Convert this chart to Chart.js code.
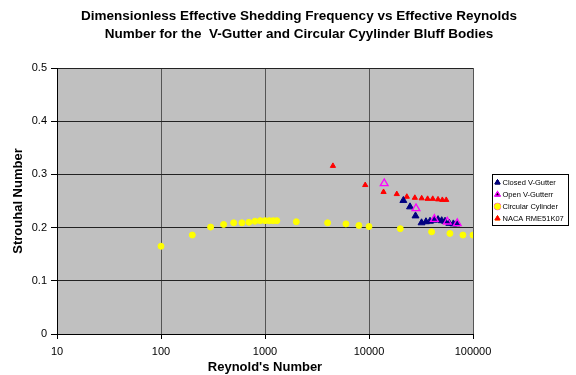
<!DOCTYPE html>
<html>
<head>
<meta charset="utf-8">
<script src="https://cdn.jsdelivr.net/npm/chart.js@4/dist/chart.umd.min.js"></script>
<style>
  html, body { margin: 0; padding: 0; background: #fff; }
</style>
</head>
<body>
<canvas id="chart" width="576" height="375"></canvas>
<script>
// Chart data
const titleLines = [
    'Dimensionless Effective Shedding Frequency vs Effective Reynolds',
    'Number for the  V-Gutter and Circular Cyylinder Bluff Bodies'
];
const xTicks = [10, 100, 1000, 10000, 100000];

const closedRe = [21400, 24800, 28000, 32000, 35300, 38600, 42200, 46100, 50000, 53800, 59200, 64700, 69700];
const closedSt = [0.251, 0.239, 0.222, 0.209, 0.211, 0.212, 0.214, 0.215, 0.213, 0.212, 0.208, 0.207, 0.207];

const openRe = [14000, 28300, 42500, 56600, 70600];
const openSt = [0.283, 0.236, 0.216, 0.211, 0.208];

const cylRe = [100, 200, 300, 400, 500, 600, 700, 800, 900, 1000, 1100, 1200, 1300,
               2000, 4000, 6000, 8000, 10000, 20000, 40000, 60000, 80000, 100000];
const cylSt = [0.165, 0.186, 0.201, 0.206, 0.209, 0.209, 0.210, 0.212, 0.213, 0.213, 0.213, 0.213, 0.213,
               0.211, 0.209, 0.207, 0.204, 0.202, 0.198, 0.192, 0.189, 0.186, 0.186];

const nacaRe = [4500, 9200, 13800, 18500, 23100, 27600, 32100, 36600, 41000, 46100, 50700, 55300];
const nacaSt = [0.316, 0.280, 0.267, 0.263, 0.258, 0.256, 0.255, 0.254, 0.254, 0.253, 0.252, 0.252];

const FONT = '"Liberation Sans", Arial, sans-serif';

// Zip two arrays into {x, y} points
function toPoints(xs, ys) {
    return xs.map((x, i) => ({ x: x, y: ys[i] }));
}

// Gray plot background + white canvas
const backgroundPlugin = {
    id: 'plotBackground',
    beforeDraw(chart) {
        const { ctx, chartArea } = chart;
        ctx.save();
        ctx.fillStyle = '#ffffff';
        ctx.fillRect(0, 0, chart.width, chart.height);
        ctx.fillStyle = '#c0c0c0';
        ctx.fillRect(chartArea.left, chartArea.top,
            chartArea.right - chartArea.left, chartArea.bottom - chartArea.top);
        ctx.restore();
    }
};

// Two line title, centred like the original
const titlePlugin = {
    id: 'twoLineTitle',
    afterDraw(chart) {
        const ctx = chart.ctx;
        ctx.save();
        ctx.font = 'bold 13.5px ' + FONT;
        ctx.fillStyle = '#000';
        ctx.textAlign = 'center';
        ctx.textBaseline = 'middle';
        titleLines.forEach((line, i) => ctx.fillText(line, 299, 16 + i * 18));
        ctx.restore();
    }
};

// Boxed legend on the right
const legendPlugin = {
    id: 'boxLegend',
    afterDraw(chart) {
        const ctx = chart.ctx;
        const box = { left: 492.5, top: 174.5, width: 76, height: 51 };
        ctx.save();
        ctx.strokeStyle = '#000';
        ctx.lineWidth = 1;
        ctx.strokeRect(box.left, box.top, box.width, box.height);
        ctx.font = '7.5px ' + FONT;
        ctx.textBaseline = 'middle';
        chart.data.datasets.forEach((ds, i) => {
            const y = box.top + 8 + i * 12;
            Chart.helpers.drawPoint(ctx, {
                pointStyle: ds.pointStyle,
                radius: ds.legendRadius,
                borderWidth: ds.borderWidth,
                rotation: 0
            }, box.left + 5, y);
            ctx.fillStyle = ds.backgroundColor;
            ctx.strokeStyle = ds.borderColor;
            ctx.lineWidth = ds.borderWidth;
            if (ds.backgroundColor !== 'rgba(0,0,0,0)') ctx.fill();
            ctx.stroke();
            ctx.fillStyle = '#000';
            ctx.fillText(ds.label, box.left + 10, y);
        });
        ctx.restore();
    }
};

const ctx = document.getElementById('chart').getContext('2d');

new Chart(ctx, {
    type: 'scatter',
    data: {
        datasets: [
            {
                label: 'Closed V-Gutter',
                data: toPoints(closedRe, closedSt),
                pointStyle: 'triangle',
                backgroundColor: '#000080',
                borderColor: '#000080',
                borderWidth: 1,
                pointRadius: 4,
                legendRadius: 3,
                order: 2
            },
            {
                label: 'Open V-Gutterr',
                data: toPoints(openRe, openSt),
                pointStyle: 'triangle',
                backgroundColor: 'rgba(0,0,0,0)',
                borderColor: '#ff00ff',
                borderWidth: 1.3,
                pointRadius: 4.5,
                legendRadius: 3,
                order: 1
            },
            {
                label: 'Circular Cylinder',
                data: toPoints(cylRe, cylSt),
                pointStyle: 'circle',
                backgroundColor: '#ffff00',
                borderColor: '#ffff00',
                borderWidth: 1,
                pointRadius: 3,
                legendRadius: 3,
                order: 3
            },
            {
                label: 'NACA RME51K07',
                data: toPoints(nacaRe, nacaSt),
                pointStyle: 'triangle',
                backgroundColor: '#ff0000',
                borderColor: '#ff0000',
                borderWidth: 1,
                pointRadius: 3,
                legendRadius: 3,
                order: 4
            }
        ]
    },
    options: {
        responsive: false,
        animation: false,
        events: [],
        layout: {
            padding: { left: 0, top: 68, right: 103, bottom: 0 }
        },
        plugins: {
            legend: { display: false },
            title: { display: false },
            tooltip: { enabled: false }
        },
        scales: {
            x: {
                type: 'logarithmic',
                min: 10,
                max: 100000,
                afterBuildTicks: scale => {
                    scale.ticks = xTicks.map(v => ({ value: v }));
                },
                afterFit: scale => { scale.height = 41; },
                ticks: {
                    callback: v => String(v),
                    color: '#000',
                    font: { family: FONT, size: 11 },
                    padding: 6,
                    maxRotation: 0,
                    autoSkip: false
                },
                grid: { color: '#555555', tickColor: '#000', tickLength: 5 },
                border: { color: '#000', width: 1 },
                title: {
                    display: true,
                    text: "Reynold's Number",
                    color: '#000',
                    font: { family: FONT, size: 13, weight: 'bold' },
                    padding: { top: 0, bottom: 0 }
                }
            },
            y: {
                min: 0,
                max: 0.5,
                afterFit: scale => { scale.width = 57; },
                ticks: {
                    stepSize: 0.1,
                    callback: v => String(+v.toFixed(1)),
                    color: '#000',
                    font: { family: FONT, size: 11 },
                    padding: 4
                },
                grid: { color: '#222222', tickColor: '#000', tickLength: 6 },
                border: { color: '#000', width: 1 },
                title: {
                    display: true,
                    text: 'Strouhal Number',
                    color: '#000',
                    font: { family: FONT, size: 13, weight: 'bold' },
                    padding: { top: 11, bottom: 0 }
                }
            }
        }
    },
    plugins: [backgroundPlugin, titlePlugin, legendPlugin]
});
</script>
</body>
</html>
